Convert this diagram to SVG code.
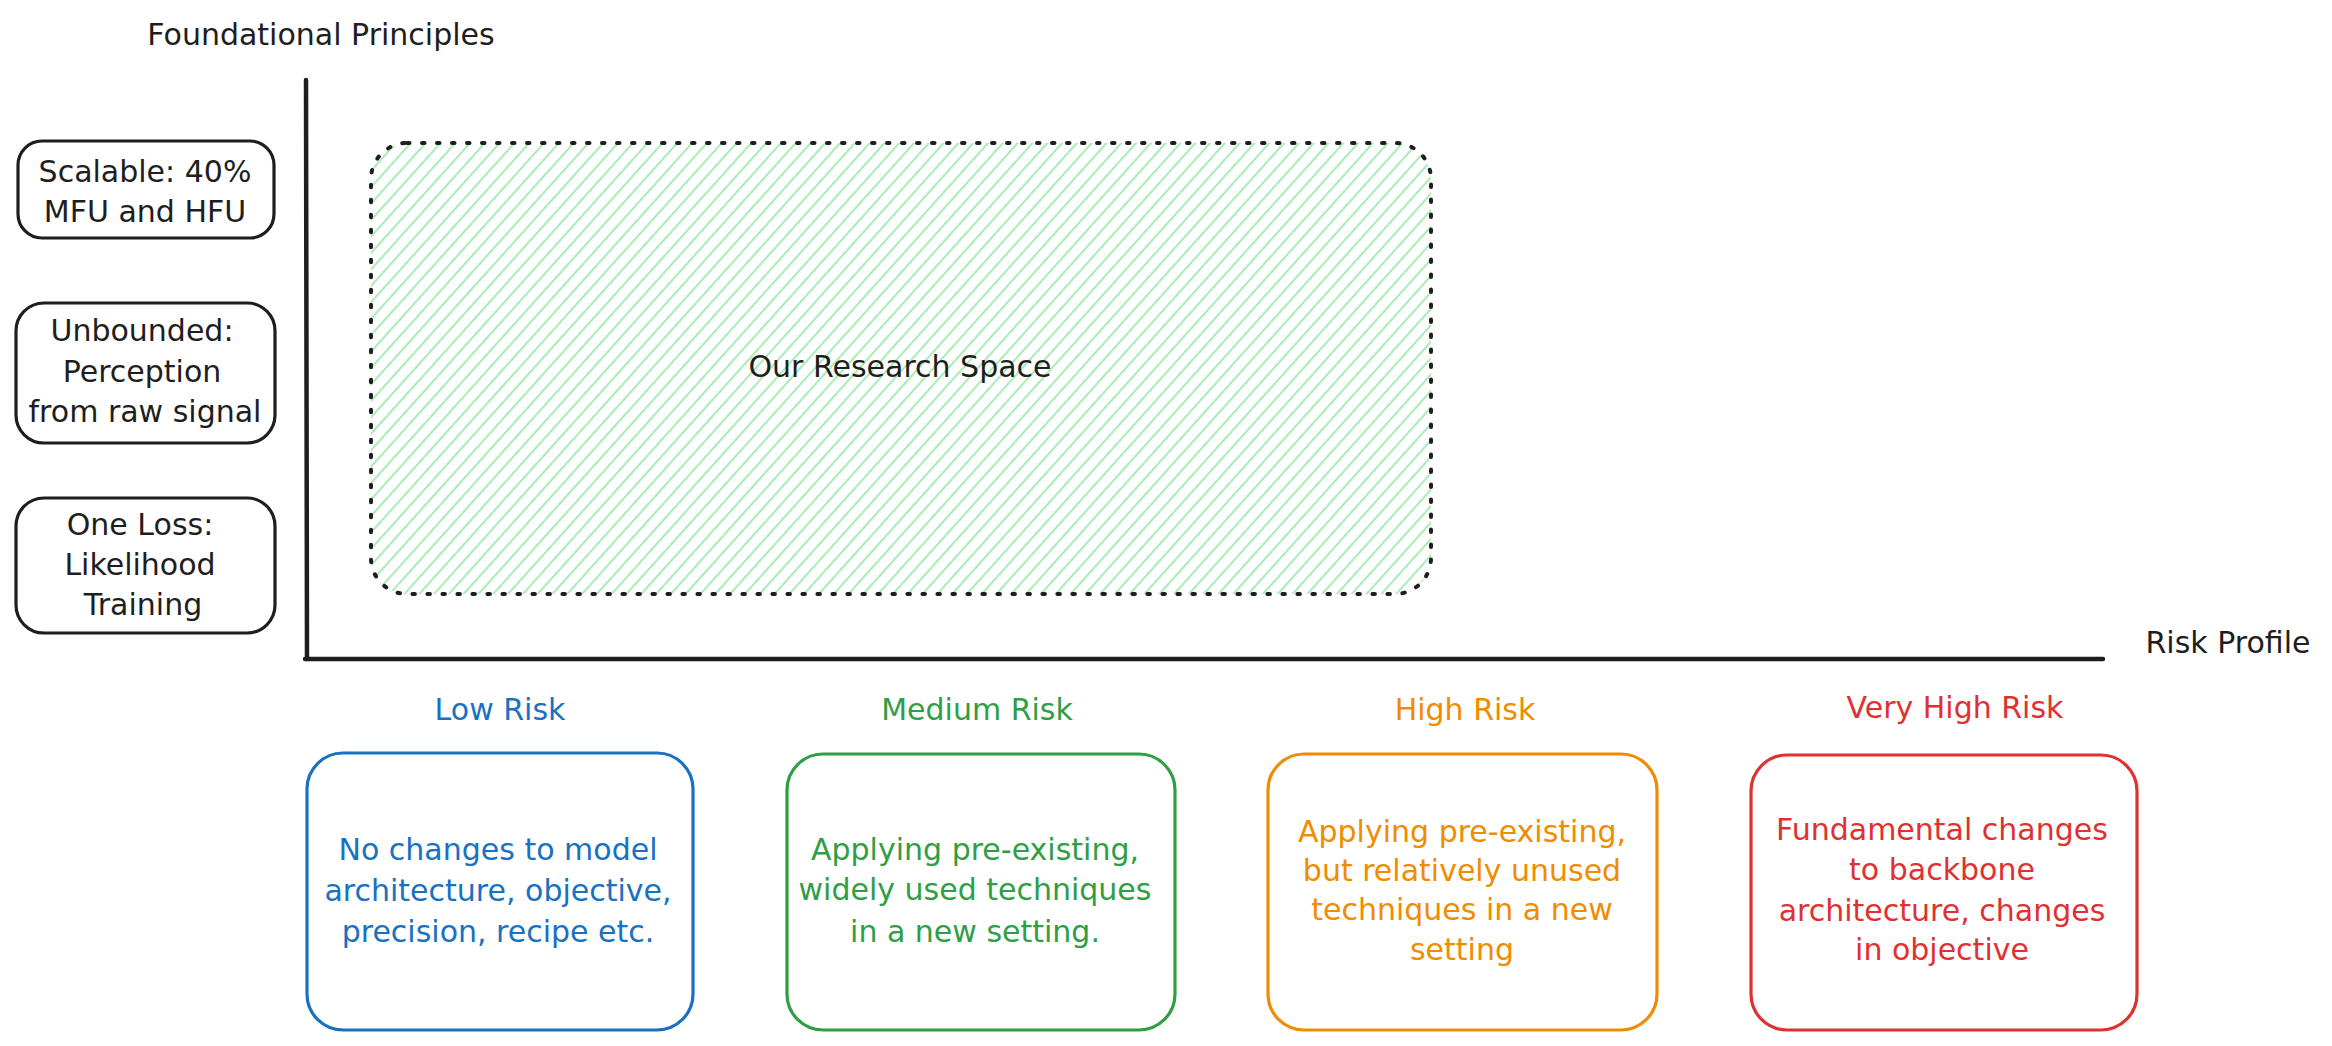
<svg xmlns="http://www.w3.org/2000/svg" width="2332" height="1046" viewBox="0 0 2332 1046">
<defs>
<pattern id="hatch" patternUnits="userSpaceOnUse" width="11" height="20" patternTransform="rotate(42)">
<line x1="5" y1="0" x2="5" y2="20" stroke="#a9ecb4" stroke-width="2"/>
</pattern>
</defs>
<style>
text{font-family:"DejaVu Sans","Liberation Sans",sans-serif;font-size:30px;text-anchor:middle}
.k{fill:#1e1e1e}
.box{fill:none;stroke-width:3.2}
.black{stroke:#1e1e1e}
.blue{stroke:#1971c2}.tblue{fill:#1971c2}
.green{stroke:#2f9e44}.tgreen{fill:#2f9e44}
.orange{stroke:#f08c00}.torange{fill:#f08c00}
.red{stroke:#e03131}.tred{fill:#e03131}
.axis{stroke:#1e1e1e;stroke-width:4.5;stroke-linecap:round;fill:none}
</style>
<rect width="2332" height="1046" fill="#ffffff"/>

<g id="axes">
<line class="axis" x1="306" y1="80" x2="307" y2="659"/>
<line class="axis" x1="305" y1="659" x2="2103" y2="659"/>
</g>

<text id="y-title" class="k" x="321" y="45">Foundational Principles</text>
<text id="x-title" class="k" x="2228" y="653">Risk Profile</text>

<g id="research-space">
<rect x="371" y="143" width="1060" height="451" rx="36" fill="url(#hatch)"/>
<rect x="371" y="143" width="1060" height="451" rx="36" fill="none" stroke="#1e1e1e" stroke-width="4" stroke-dasharray="2.5 12.5" stroke-linecap="round"/>
<text class="k" x="900" y="377">Our Research Space</text>
</g>

<g id="scalable">
<rect class="box black" x="18" y="141" width="256" height="97" rx="24"/>
<text class="k" x="145" y="182">Scalable: 40%</text>
<text class="k" x="145" y="222">MFU and HFU</text>
</g>

<g id="unbounded">
<rect class="box black" x="16" y="303" width="259" height="140" rx="28"/>
<text class="k" x="142" y="341">Unbounded:</text>
<text class="k" x="142" y="382">Perception</text>
<text class="k" x="145" y="422">from raw signal</text>
</g>

<g id="one-loss">
<rect class="box black" x="16" y="498" width="259" height="135" rx="28"/>
<text class="k" x="140" y="535">One Loss:</text>
<text class="k" x="140" y="575">Likelihood</text>
<text class="k" x="143" y="615">Training</text>
</g>

<g id="low-risk">
<text class="tblue" x="500" y="720">Low Risk</text>
<rect class="box blue" x="307" y="753" width="386" height="277" rx="36"/>
<text class="tblue" x="498" y="860">No changes to model</text>
<text class="tblue" x="498" y="901">architecture, objective,</text>
<text class="tblue" x="498" y="942">precision, recipe etc.</text>
</g>

<g id="medium-risk">
<text class="tgreen" x="977" y="720">Medium Risk</text>
<rect class="box green" x="787" y="754" width="388" height="276" rx="36"/>
<text class="tgreen" x="975" y="860">Applying pre-existing,</text>
<text class="tgreen" x="975" y="900">widely used techniques</text>
<text class="tgreen" x="975" y="942">in a new setting.</text>
</g>

<g id="high-risk">
<text class="torange" x="1465" y="720">High Risk</text>
<rect class="box orange" x="1268" y="754" width="389" height="276" rx="36"/>
<text class="torange" x="1462" y="842">Applying pre-existing,</text>
<text class="torange" x="1462" y="881">but relatively unused</text>
<text class="torange" x="1462" y="920">techniques in a new</text>
<text class="torange" x="1462" y="960">setting</text>
</g>

<g id="very-high-risk">
<text class="tred" x="1955" y="718">Very High Risk</text>
<rect class="box red" x="1751" y="755" width="386" height="275" rx="36"/>
<text class="tred" x="1942" y="840">Fundamental changes</text>
<text class="tred" x="1942" y="880">to backbone</text>
<text class="tred" x="1942" y="921">architecture, changes</text>
<text class="tred" x="1942" y="960">in objective</text>
</g>
</svg>
